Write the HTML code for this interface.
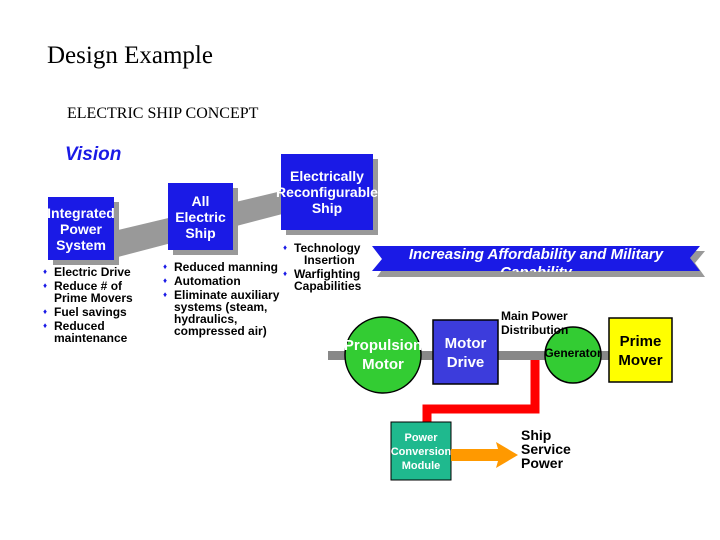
<!DOCTYPE html>
<html><head><style>
body{margin:0;width:720px;height:540px;background:#fff;position:relative;overflow:hidden;font-family:"Liberation Sans","DejaVu Sans",sans-serif}
.a{position:absolute;white-space:nowrap}
.box{position:absolute;background:#1a1ae6;color:#fff;font-weight:bold;text-align:center;box-shadow:5px 5px 0 #999;display:flex;align-items:center;justify-content:center;line-height:16px;font-size:14px}
ul{position:absolute;margin:0;padding:0;list-style:none;font-size:12px;font-weight:bold;line-height:12px}
li{padding-left:11px;position:relative;margin-bottom:2px}
li:before{content:"\2666";position:absolute;left:0;color:#1a1ae6;font-size:8px}
</style></head><body>
<svg width="720" height="540" style="position:absolute;left:0;top:0">
<polygon points="114,231 290,189 290,212 114,258" fill="#999"/>
<polygon points="377,251 705,251 695,263 705,277 377,277 386,264" fill="#999"/>
<polygon points="372,246 700,246 690,258 700,271 372,271 382,259" fill="#1a1ae6"/>
<rect x="328" y="351" width="282" height="9" fill="#888"/>
<polyline points="535,360 535,409 427,409 427,424" fill="none" stroke="#f00" stroke-width="9"/>
<circle cx="383" cy="355" r="38" fill="#3c3" stroke="#000" stroke-width="1.5"/>
<rect x="433" y="320" width="65" height="64" fill="#3c3cdc" stroke="#000" stroke-width="1.5"/>
<circle cx="573" cy="355" r="28" fill="#3c3" stroke="#000" stroke-width="1.5"/>
<rect x="609" y="318" width="63" height="64" fill="#ff0" stroke="#000" stroke-width="1.5"/>
<rect x="391" y="422" width="60" height="58" fill="#1fb98e" stroke="#000" stroke-width="1"/>
<polygon points="451,449 498,449 496,442 518,455 496,468 498,461 451,461" fill="#f90"/>
</svg>
<div class="a" style="left:47px;top:42px;font-family:'Liberation Serif',serif;font-size:25px">Design Example</div>
<div class="a" style="left:67px;top:105px;font-family:'Liberation Serif',serif;font-size:16px">ELECTRIC SHIP CONCEPT</div>
<div class="a" style="left:65px;top:144px;font-size:19px;font-weight:bold;font-style:italic;color:#1a1ae6">Vision</div>
<div class="box" style="left:48px;top:197px;width:66px;height:63px">Integrated<br>Power<br>System</div>
<div class="box" style="left:168px;top:183px;width:65px;height:67px">All<br>Electric<br>Ship</div>
<div class="box" style="left:281px;top:154px;width:92px;height:76px">Electrically<br>Reconfigurable<br>Ship</div>
<ul style="left:43px;top:266px"><li>Electric Drive</li><li>Reduce # of<br>Prime Movers</li><li>Fuel savings</li><li>Reduced<br>maintenance</li></ul>
<ul style="left:163px;top:261px"><li>Reduced manning</li><li>Automation</li><li>Eliminate auxiliary<br>systems (steam,<br>hydraulics,<br>compressed air)</li></ul>
<ul style="left:283px;top:242px"><li>Technology<br>&nbsp;&nbsp;&nbsp;Insertion</li><li>Warfighting<br>Capabilities</li></ul>
<div class="a" style="left:372px;top:246px;width:328px;text-align:center;color:#fff;font-weight:bold;font-style:italic;font-size:15px;line-height:18px;height:26px;overflow:hidden">Increasing Affordability and Military<br>Capability</div>
<div class="a" style="left:341px;top:336px;width:84px;text-align:center;color:#fff;font-weight:bold;font-size:15px;line-height:19px">Propulsion<br>Motor</div>
<div class="a" style="left:433px;top:334px;width:65px;text-align:center;color:#fff;font-weight:bold;font-size:15px;line-height:19px">Motor<br>Drive</div>
<div class="a" style="left:501px;top:309px;font-size:12px;font-weight:bold;line-height:14px">Main Power<br>Distribution</div>
<div class="a" style="left:537px;top:346px;width:72px;text-align:center;font-size:12px;font-weight:bold">Generator</div>
<div class="a" style="left:609px;top:332px;width:63px;text-align:center;font-weight:bold;font-size:15px;line-height:19px">Prime<br>Mover</div>
<div class="a" style="left:386px;top:431px;width:70px;text-align:center;color:#fff;font-weight:bold;font-size:11px;line-height:14px">Power<br>Conversion<br>Module</div>
<div class="a" style="left:521px;top:428px;font-size:14px;font-weight:bold;line-height:14px">Ship<br>Service<br>Power</div>
</body></html>
